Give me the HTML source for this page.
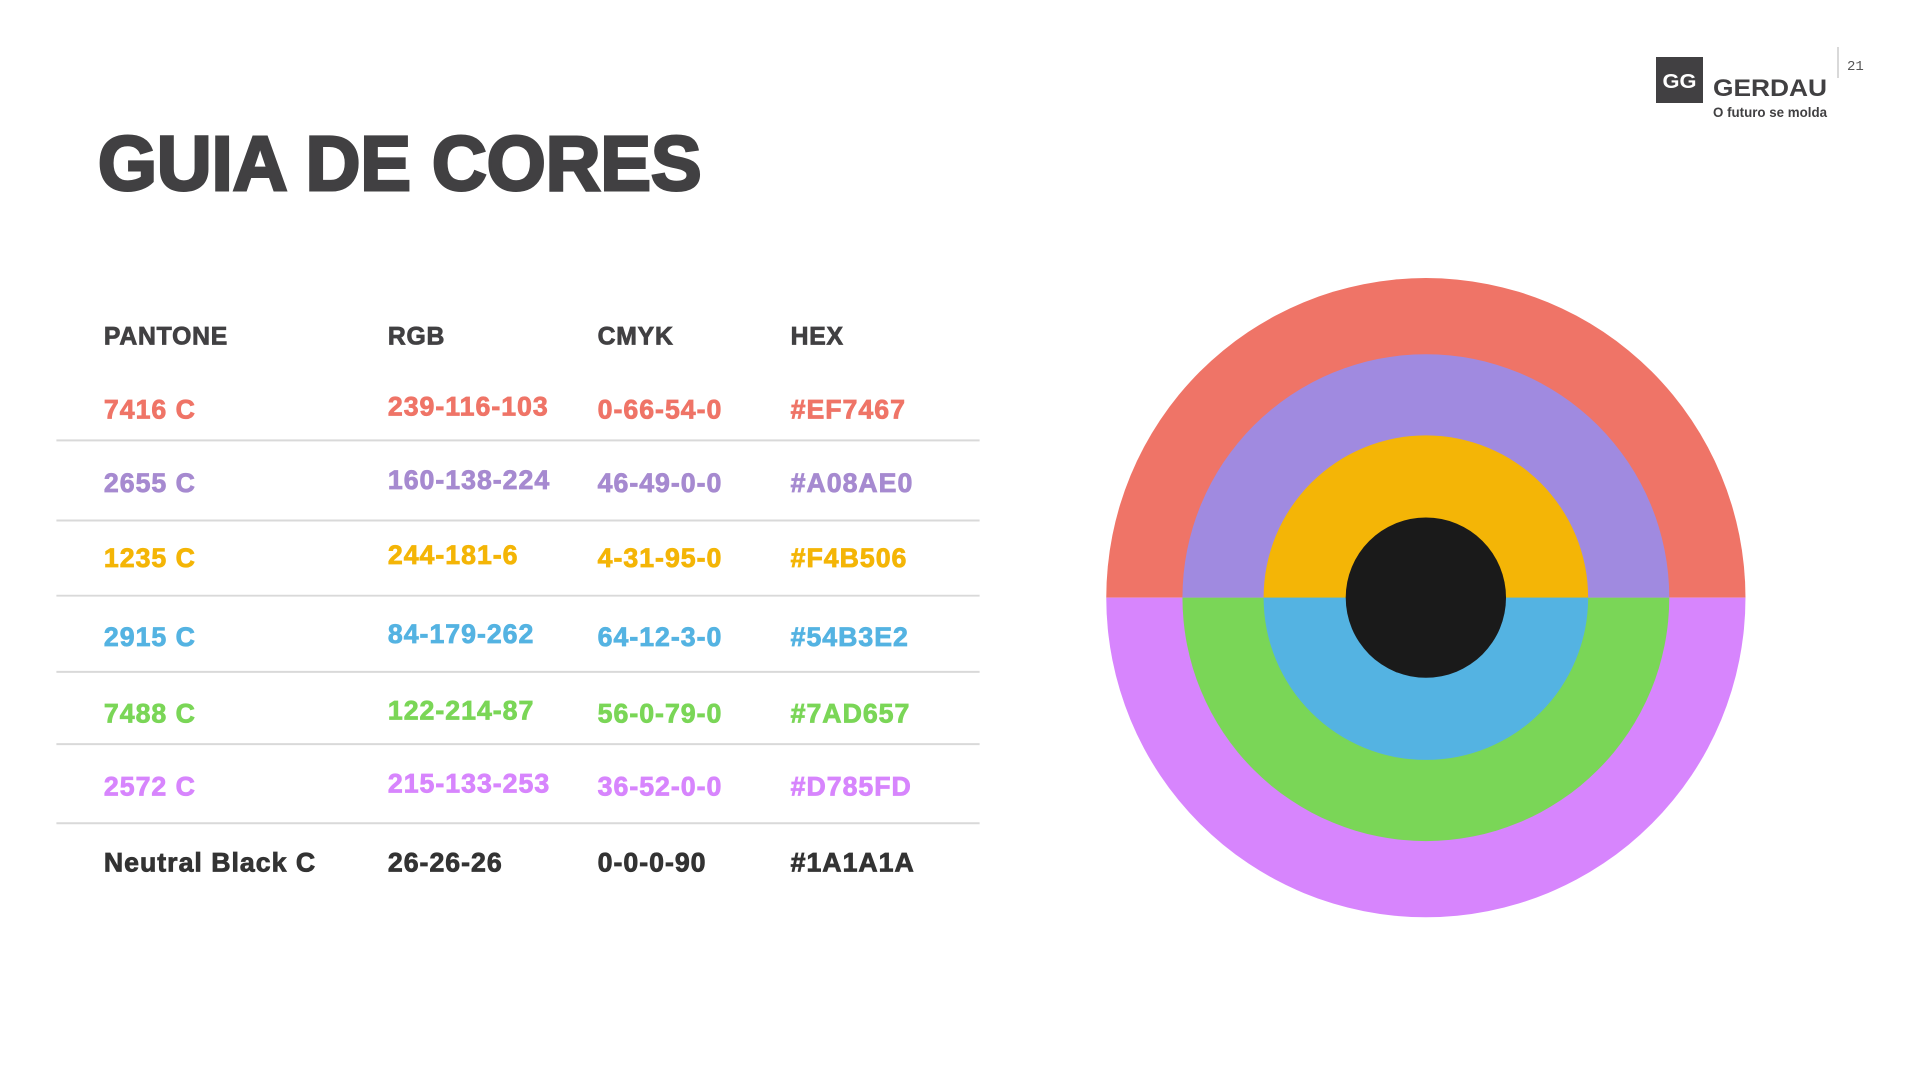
<!DOCTYPE html>
<html><head><meta charset="utf-8"><style>
html,body{margin:0;padding:0;background:#fff;}
svg{display:block;}
text{font-family:"Liberation Sans",sans-serif;font-weight:bold;}
</style></head><body>
<svg id="page" width="1920" height="1080" viewBox="0 0 1920 1080" xmlns="http://www.w3.org/2000/svg">
  <g>
    <rect x="1656" y="57" width="47" height="46" fill="#414042"/>
    <text x="1679.5" y="88" font-size="20" fill="#fff" text-anchor="middle" textLength="34" lengthAdjust="spacingAndGlyphs">GG</text>
    <text x="1713" y="96" font-size="24" fill="#414042" textLength="114" lengthAdjust="spacingAndGlyphs">GERDAU</text>
    <text x="1713" y="117" font-size="14" fill="#414042" textLength="114" lengthAdjust="spacingAndGlyphs">O futuro se molda</text>
  </g>
  <line x1="1838" y1="47" x2="1838" y2="78" stroke="#cccccc" stroke-width="1.5"/>
  <text x="1847" y="70" font-size="14" style="font-weight:normal;font-family:'Liberation Mono',monospace" fill="#555">21</text>
 <g transform="scale(0.9895)">
  <text x="99" y="192" font-size="78" fill="#414042" stroke="#414042" stroke-width="3" textLength="610" lengthAdjust="spacingAndGlyphs">GUIA DE CORES</text>
  <g id="table"></g>
  <g id="rings"></g>
 </g>
</svg>
<script>
const NS="http://www.w3.org/2000/svg";
const headers=["PANTONE","RGB","CMYK","HEX"];
const pantone=["7416 C","2655 C","1235 C","2915 C","7488 C","2572 C","Neutral Black C"];
const rgbVals=["239-116-103","160-138-224","244-181-6","84-179-262","122-214-87","215-133-253","26-26-26"];
const cmykVals=["0-66-54-0","46-49-0-0","4-31-95-0","64-12-3-0","56-0-79-0","36-52-0-0","0-0-0-90"];
const hexVals=["#EF7467","#A08AE0","#F4B506","#54B3E2","#7AD657","#D785FD","#1A1A1A"];
const textColors=["#ef7467","#a68ad0","#f4b506","#54b3e2","#7ad657","#d785fd","#333333"];
// rings: upper half then lower half colors, from outermost
const ringRadii=[323,246,164];
const upperColors=["#EF7467","#A08AE0","#F4B506"];
const lowerColors=["#D785FD","#7AD657","#54B3E2"];
const coreRadius=81;
const coreColor="#1A1A1A";

const colX=[105,392,604,799];
const headerY=348;
const rowY=[423,497,573,653,730,804,881];
const lineY=[445,526,602,679,752,832];
const tbl=document.getElementById('table');
function txt(x,y,s,fs,fill,name,ls){
  const t=document.createElementNS(NS,'text');
  t.setAttribute('x',x);t.setAttribute('y',y);t.setAttribute('font-size',fs);t.setAttribute('fill',fill);
  t.setAttribute('stroke',fill);t.setAttribute('stroke-width',0.8);
  t.setAttribute('letter-spacing',ls);
  t.textContent=s;
  
  
  tbl.appendChild(t);return t;
}
headers.forEach((h,i)=>{txt(colX[i],headerY,h,25,'#414042','column-header-'+h.toLowerCase(),0.8);});
const cols=[pantone,rgbVals,cmykVals,hexVals];
const colNames=['pantone','rgb','cmyk','hex'];
pantone.forEach((p,r)=>{
  cols.forEach((c,i)=>{
    const dy=(i===1&&r<6)?-3:0;
    txt(colX[i],rowY[r]+dy,c[r],27,textColors[r],colNames[i]+'-cell-'+(r+1),1);
  });
});
lineY.forEach((y,i)=>{
  const l=document.createElementNS(NS,'line');
  l.setAttribute('x1',57);l.setAttribute('x2',990);l.setAttribute('y1',y);l.setAttribute('y2',y);
  l.setAttribute('stroke','#d9d9d9');l.setAttribute('stroke-width',2);
  
  
  tbl.appendChild(l);
});
const cx=1441,cy=604;
const rg=document.getElementById('rings');
function half(r,color,upper,name){
  const p=document.createElementNS(NS,'path');
  const sweep=upper?1:0;
  p.setAttribute('d',`M${cx-r},${cy} A${r},${r} 0 0 ${sweep} ${cx+r},${cy} Z`);
  p.setAttribute('fill',color);
  
  
  rg.appendChild(p);
}
ringRadii.forEach((r,i)=>{
  half(r,upperColors[i],true,'ring-upper-'+(i+1));
  half(r,lowerColors[i],false,'ring-lower-'+(i+1));
});
const c=document.createElementNS(NS,'circle');
c.setAttribute('cx',cx);c.setAttribute('cy',cy);c.setAttribute('r',coreRadius);c.setAttribute('fill',coreColor);


rg.appendChild(c);
</script>
</body></html>
